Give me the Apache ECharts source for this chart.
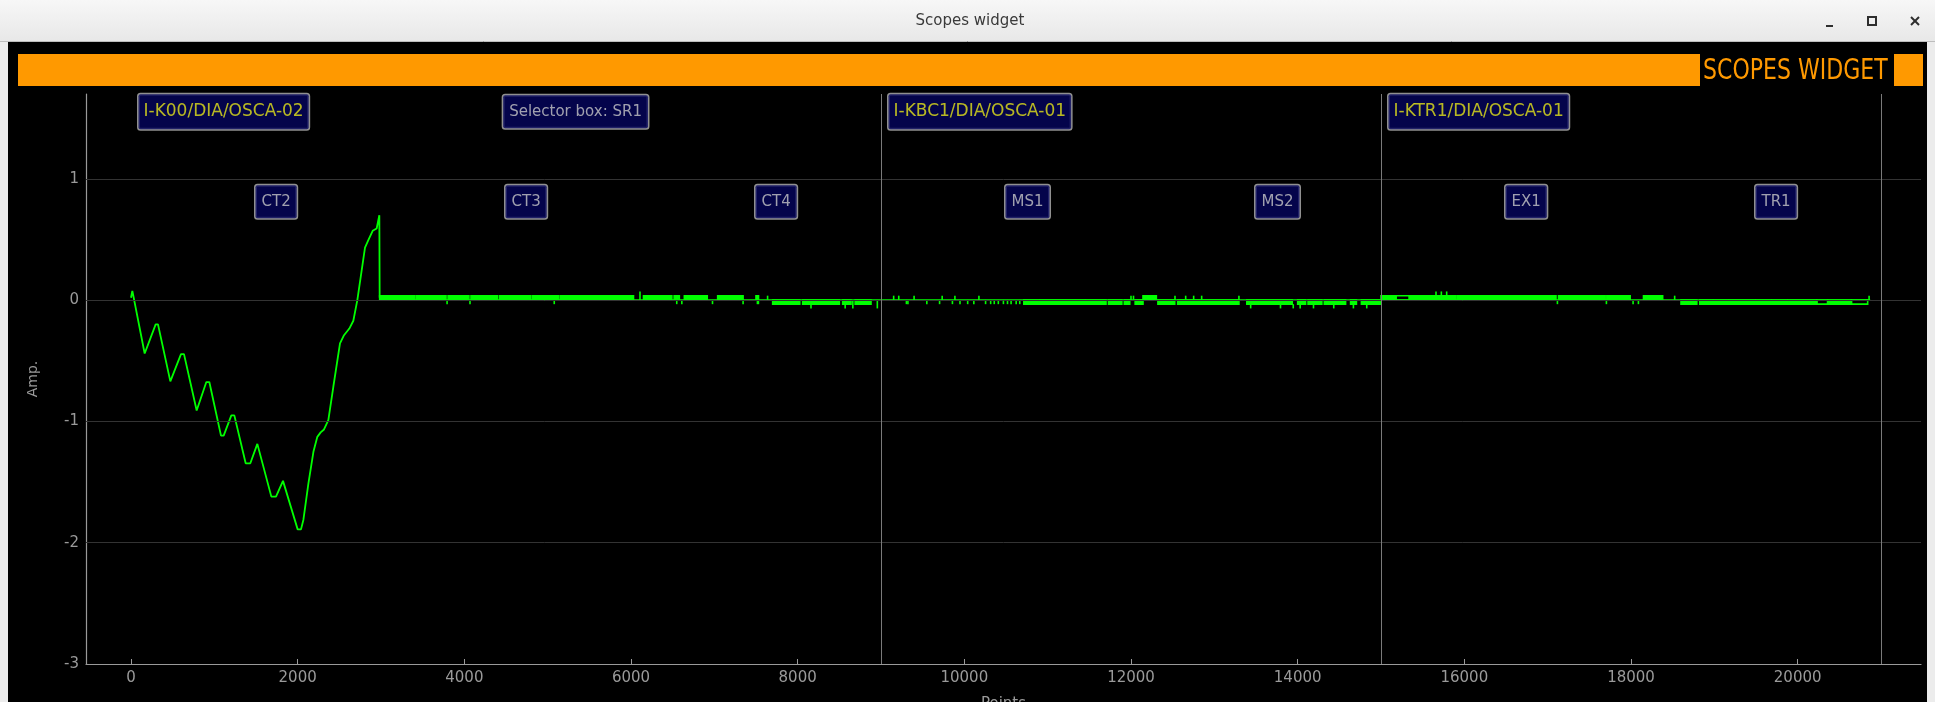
<!DOCTYPE html>
<html>
<head>
<meta charset="utf-8">
<title>Scopes widget</title>
<script src="https://cdn.jsdelivr.net/npm/echarts@6/dist/echarts.min.js"></script>
<style>
  html, body { margin: 0; padding: 0; background: #000; }
  #scope { width: 1935px; height: 702px; }
</style>
</head>
<body>
<div id="scope"></div>
<script>
// ---- Axis ticks ----
const xTicks = [0, 2000, 4000, 6000, 8000, 10000, 12000, 14000, 16000, 18000, 20000];
const yTicks = [-3, -2, -1, 0, 1];
const gridRows = [1, 0, -1, -2];
const segmentBounds = [9000, 15000, 21000];

// ---- Annotations ----
const stationNames = ['I-K00/DIA/OSCA-02', 'I-KBC1/DIA/OSCA-01', 'I-KTR1/DIA/OSCA-01'];
const stationStarts = [0, 9000, 15000];
const selectorName = 'Selector box: SR1';
const selectorAt = 4460;
const elementNames = ['CT2', 'CT3', 'CT4', 'MS1', 'MS2', 'EX1', 'TR1'];
const elementAt = [1500, 4500, 7500, 10500, 13500, 16500, 19500];

// ---- Signal: first station transient [point, amplitude] ----
const waveform = [
  [0, 0.02], [8, 0.05], [16, 0.077], [24, 0.05],
  [164, -0.44], [176, -0.453], [188, -0.44],
  [296, -0.2], [308, -0.192], [324, -0.2],
  [472, -0.67], [480, -0.681], [490, -0.67],
  [600, -0.445], [616, -0.44], [636, -0.445],
  [788, -0.91], [796, -0.921], [806, -0.91],
  [904, -0.675], [920, -0.67], [940, -0.675],
  [1080, -1.117], [1100, -1.127], [1112, -1.117],
  [1204, -0.95], [1220, -0.945], [1240, -0.95],
  [1376, -1.345], [1400, -1.352], [1432, -1.345],
  [1516, -1.185], [1524, -1.18], [1536, -1.19],
  [1684, -1.62], [1708, -1.627], [1740, -1.62],
  [1824, -1.49], [1832, -1.484], [1844, -1.49],
  [2000, -1.89], [2020, -1.898], [2040, -1.89],
  [2069, -1.81], [2129, -1.51], [2189, -1.25], [2236, -1.127], [2276, -1.09],
  [2316, -1.066], [2368, -0.989], [2428, -0.714], [2508, -0.357], [2556, -0.289],
  [2620, -0.234], [2668, -0.17], [2716, 0.0], [2808, 0.434], [2848, 0.495],
  [2900, 0.572], [2948, 0.591], [2980, 0.70], [2984, 0.02]
];

// Resting level of the trace after the transient
const restLevel = [[2984, 0.002], [20870, 0.002]];

// Stretches where the trace dithers between two quantisation levels [from, to, low, high]
const bands = [
  [2984, 3400, 0.002, 0.037], [3420, 3780, 0.002, 0.037], [3805, 4055, 0.002, 0.037],
  [4080, 4395, 0.002, 0.037], [4420, 4795, 0.002, 0.037], [4815, 5130, 0.002, 0.037],
  [5150, 6030, 0.002, 0.037], [6150, 6490, 0.002, 0.037], [6518, 6580, 0.002, 0.037],
  [6640, 6915, 0.002, 0.037], [7040, 7345, 0.002, 0.037], [7500, 7530, 0.002, 0.037],
  [7700, 8025, -0.033, 0.002], [8060, 8500, -0.033, 0.002], [8540, 8640, -0.033, 0.002],
  [8690, 8880, -0.033, 0.002],
  [10714, 10895, -0.033, 0.002], [10905, 11320, -0.033, 0.002], [11335, 11445, -0.033, 0.002],
  [11455, 11700, -0.033, 0.002], [11730, 11890, -0.033, 0.002], [11920, 11985, -0.033, 0.002],
  [12050, 12144, -0.033, 0.002], [12144, 12304, 0.002, 0.037], [12323, 12525, -0.033, 0.002],
  [12560, 13295, -0.033, 0.002], [13390, 13935, -0.033, 0.002], [14000, 14095, -0.033, 0.002],
  [14125, 14290, -0.033, 0.002], [14320, 14575, -0.033, 0.002], [14635, 14705, -0.033, 0.002],
  [14765, 14990, -0.033, 0.002],
  [15000, 15180, 0.002, 0.037], [15340, 15650, 0.002, 0.037], [15650, 15900, 0.002, 0.037],
  [15915, 17100, 0.002, 0.037], [17130, 17690, 0.002, 0.037], [17710, 17990, 0.002, 0.037],
  [18150, 18380, 0.002, 0.037],
  [18600, 18790, -0.033, 0.002], [18825, 18980, -0.033, 0.002], [18990, 19170, -0.033, 0.002],
  [19180, 19490, -0.033, 0.002], [19500, 19680, -0.033, 0.002], [19690, 19875, -0.033, 0.002],
  [19885, 20230, -0.033, 0.002], [20360, 20645, -0.033, 0.002]
];

// Stretches where only the two level edges are drawn [from, to, low, high]
const openBands = [
  [15180, 15340, 0.002, 0.037],
  [20230, 20360, -0.033, 0.002],
  [20645, 20840, -0.033, 0.002]
];

// Single-sample excursions [point, from, to]
const spikes = [
  [3793, 0.002, -0.033], [4068, 0.002, -0.033], [5079, 0.002, -0.033],
  [6108, 0.002, 0.072],
  [6549, 0.002, -0.033], [6610, 0.002, -0.033], [6978, 0.002, -0.033], [7345, 0.002, -0.033],
  [7517, 0.002, -0.033], [7529, 0.002, -0.033], [7639, 0.002, 0.037],
  [8160, 0.002, -0.068], [8570, 0.002, -0.068], [8662, 0.002, -0.068], [8956, 0.002, -0.068],
  [9152, 0.002, 0.037], [9213, 0.002, 0.037], [9397, 0.002, 0.037], [9734, 0.002, 0.037],
  [9887, 0.002, 0.037], [10175, 0.002, 0.037],
  [9305, 0.002, -0.033], [9323, 0.002, -0.033], [9550, 0.002, -0.033], [9703, 0.002, -0.033],
  [9857, 0.002, -0.033], [9948, 0.002, -0.033], [10040, 0.002, -0.033], [10114, 0.002, -0.033],
  [10255, 0.002, -0.033], [10316, 0.002, -0.033], [10359, 0.002, -0.033], [10408, 0.002, -0.033],
  [10469, 0.002, -0.033], [10518, 0.002, -0.033], [10561, 0.002, -0.033], [10622, 0.002, -0.033],
  [10665, 0.002, -0.033],
  [12000, 0.002, 0.037], [12030, 0.002, 0.037], [12528, 0.002, 0.037], [12656, 0.002, 0.037],
  [12752, 0.002, 0.037], [12848, 0.002, 0.037], [13295, 0.002, 0.037],
  [13436, -0.033, -0.068], [13794, -0.033, -0.068], [13947, -0.033, -0.068], [14030, -0.033, -0.068],
  [14190, -0.033, -0.068], [14433, -0.033, -0.068], [14669, -0.033, -0.068], [14829, -0.033, -0.068],
  [15660, 0.037, 0.072], [15724, 0.037, 0.072], [15788, 0.037, 0.072],
  [17117, 0.002, -0.033], [17705, 0.002, -0.033], [18025, 0.002, -0.033], [18089, 0.002, -0.033],
  [18524, 0.002, 0.037], [20857, 0.002, 0.037]
];

// ---- Styling ----
const TRACE = '#00ff00';
const AXIS = '#9a9a9a';
const ORANGE = '#ff9900';
const TAG_FILL = '#05055e';
const TAG_BORDER = '#b4b4b4';
const ROW_STATION = 1.554;
const ROW_ELEMENT = 0.812;

const chart = echarts.init(document.getElementById('scope'), null, { renderer: 'canvas' });

function bandItem(filled) {
  return function (params, api) {
    const a = api.coord([api.value(0), api.value(3)]);
    const b = api.coord([api.value(1), api.value(2)]);
    return {
      type: 'rect',
      shape: { x: a[0], y: a[1], width: b[0] - a[0], height: b[1] - a[1] },
      style: { fill: filled ? TRACE : null, stroke: TRACE, lineWidth: 1.6 }
    };
  };
}

const tagLabel = (color, size, lh, pad) => ({
  show: true,
  position: 'right',
  formatter: '{b}',
  color: color,
  fontFamily: 'DejaVu Sans',
  fontSize: size,
  lineHeight: lh,
  backgroundColor: TAG_FILL,
  borderColor: TAG_BORDER,
  borderWidth: 1.5,
  borderRadius: 2,
  padding: pad
});

const plain = v => String(v);

const option = {
  backgroundColor: '#000',
  animation: false,
  grid: { left: 86, right: 14, top: 94, bottom: 38, outerBoundsMode: 'none', containLabel: false },
  xAxis: {
    type: 'value',
    min: -540,
    max: 21480,
    name: 'Points',
    nameLocation: 'middle',
    nameGap: 33,
    nameTextStyle: { color: AXIS, fontSize: 15, fontFamily: 'DejaVu Sans', verticalAlign: 'top' },
    axisLine: { show: true, onZero: false, lineStyle: { color: AXIS, width: 1.2 } },
    axisTick: { show: true, inside: true, length: 5, customValues: xTicks, lineStyle: { color: AXIS } },
    axisLabel: { customValues: xTicks, formatter: plain, color: AXIS, fontSize: 15, fontFamily: 'DejaVu Sans', margin: 7 },
    splitLine: { show: false }
  },
  yAxis: {
    type: 'value',
    min: -3,
    max: 1.7,
    name: 'Amp.',
    nameLocation: 'middle',
    nameRotate: 90,
    nameGap: 46,
    nameTextStyle: { color: AXIS, fontSize: 14, fontFamily: 'DejaVu Sans' },
    axisLine: { show: true, onZero: false, lineStyle: { color: AXIS, width: 1.2 } },
    axisTick: { show: false },
    axisLabel: { customValues: yTicks, formatter: plain, color: AXIS, fontSize: 15, fontFamily: 'DejaVu Sans', margin: 7 },
    splitLine: { show: false }
  },
  graphic: {
    elements: [
      // window title bar
      {
        type: 'rect', silent: true, z: 10,
        shape: { x: 0, y: 0, width: 1935, height: 41 },
        style: {
          fill: new echarts.graphic.LinearGradient(0, 0, 0, 1, [
            { offset: 0, color: '#f7f7f7' }, { offset: 1, color: '#e8e8e8' }
          ])
        }
      },
      { type: 'line', silent: true, z: 10, shape: { x1: 0, y1: 41.5, x2: 1935, y2: 41.5 }, style: { stroke: '#bdbdbd', lineWidth: 1 } },
      {
        type: 'text', silent: true, z: 11, x: 970, y: 21,
        style: { text: 'Scopes widget', fill: '#3a3a3a', font: '15px "DejaVu Sans"', align: 'center', verticalAlign: 'middle' }
      },
      { type: 'line', silent: true, z: 11, shape: { x1: 1826, y1: 26, x2: 1833, y2: 26 }, style: { stroke: '#2e2e2e', lineWidth: 2 } },
      { type: 'rect', silent: true, z: 11, shape: { x: 1868, y: 17, width: 8, height: 8 }, style: { fill: null, stroke: '#2e2e2e', lineWidth: 2 } },
      { type: 'line', silent: true, z: 11, shape: { x1: 1911, y1: 17, x2: 1919, y2: 25 }, style: { stroke: '#2e2e2e', lineWidth: 2 } },
      { type: 'line', silent: true, z: 11, shape: { x1: 1919, y1: 17, x2: 1911, y2: 25 }, style: { stroke: '#2e2e2e', lineWidth: 2 } },
      // window side frames
      { type: 'rect', silent: true, z: 10, shape: { x: 0, y: 42, width: 8, height: 660 }, style: { fill: '#ececec' } },
      { type: 'rect', silent: true, z: 10, shape: { x: 1927, y: 42, width: 8, height: 660 }, style: { fill: '#ececec' } },
      // banner
      { type: 'rect', silent: true, z: 10, shape: { x: 18, y: 54, width: 1682, height: 32 }, style: { fill: ORANGE } },
      {
        type: 'text', silent: true, z: 11, x: 1703, y: 71, scaleX: 0.76,
        style: { text: 'SCOPES WIDGET', fill: ORANGE, font: '29px "DejaVu Sans"', verticalAlign: 'middle' }
      },
      { type: 'rect', silent: true, z: 10, shape: { x: 1894, y: 54, width: 29, height: 32 }, style: { fill: ORANGE } }
    ]
  },
  series: [
    {
      name: 'grid',
      type: 'line',
      data: [],
      z: 1,
      silent: true,
      markLine: {
        silent: true,
        symbol: ['none', 'none'],
        label: { show: false },
        animation: false,
        data: gridRows.map(v => ({ yAxis: v, lineStyle: { color: '#333333', width: 1, type: 'solid' } }))
          .concat(segmentBounds.map(v => ({ xAxis: v, lineStyle: { color: '#7a7a7a', width: 1, type: 'solid' } })))
      }
    },
    {
      name: 'rest',
      type: 'line',
      data: restLevel,
      z: 2,
      showSymbol: false,
      silent: true,
      lineStyle: { color: TRACE, width: 1.6 }
    },
    {
      name: 'bands',
      type: 'custom',
      z: 3,
      silent: true,
      data: bands,
      encode: { x: [0, 1], y: [2, 3] },
      renderItem: bandItem(true)
    },
    {
      name: 'openBands',
      type: 'custom',
      z: 3,
      silent: true,
      data: openBands,
      encode: { x: [0, 1], y: [2, 3] },
      renderItem: bandItem(false)
    },
    {
      name: 'spikes',
      type: 'custom',
      z: 3,
      silent: true,
      data: spikes,
      encode: { x: 0, y: [1, 2] },
      renderItem: function (params, api) {
        const a = api.coord([api.value(0), api.value(1)]);
        const b = api.coord([api.value(0), api.value(2)]);
        return {
          type: 'line',
          shape: { x1: a[0], y1: a[1], x2: b[0], y2: b[1] },
          style: { stroke: TRACE, lineWidth: 1.6 }
        };
      }
    },
    {
      name: 'waveform',
      type: 'line',
      data: waveform,
      z: 4,
      showSymbol: false,
      silent: true,
      lineStyle: { color: TRACE, width: 1.8 }
    },
    {
      name: 'stations',
      type: 'scatter',
      z: 5,
      silent: true,
      symbolSize: 1,
      itemStyle: { color: 'rgba(0,0,0,0)' },
      data: stationNames.map((n, i) => ({ name: n, value: [stationStarts[i], ROW_STATION] })),
      label: Object.assign(tagLabel('#e6e619', 17, 21, [7, 5]), { distance: 7 })
    },
    {
      name: 'selector',
      type: 'scatter',
      z: 5,
      silent: true,
      symbolSize: 1,
      itemStyle: { color: 'rgba(0,0,0,0)' },
      data: [{ name: selectorName, value: [selectorAt, ROW_STATION] }],
      label: Object.assign(tagLabel('#c8c8c8', 15, 19, [7, 6]), { distance: 0 })
    },
    {
      name: 'elements',
      type: 'scatter',
      z: 5,
      silent: true,
      symbolSize: 1,
      itemStyle: { color: 'rgba(0,0,0,0)' },
      data: elementNames.map((n, i) => ({ name: n, value: [elementAt[i], ROW_ELEMENT] })),
      label: Object.assign(tagLabel('#c8c8c8', 15, 19, [7, 6]), { distance: -1 })
    }
  ]
};

chart.setOption(option);
</script>
</body>
</html>
